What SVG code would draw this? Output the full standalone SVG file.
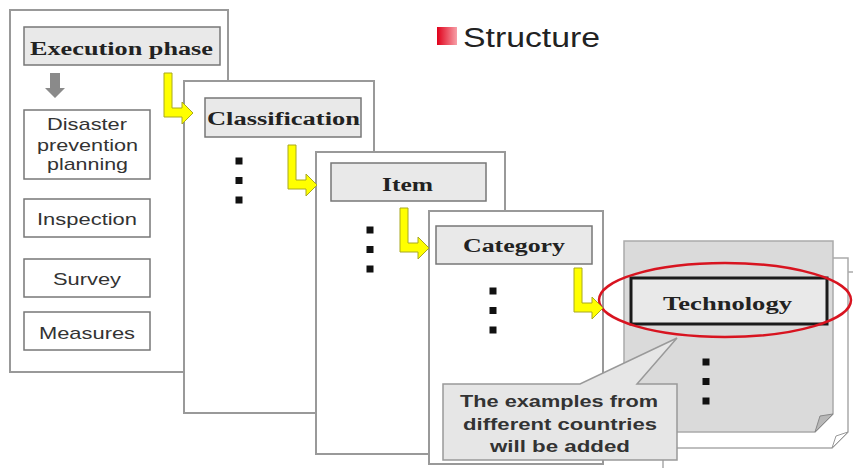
<svg xmlns="http://www.w3.org/2000/svg" width="853" height="468" viewBox="0 0 853 468">
<defs>
<style>
.panel{fill:#fff;stroke:#999;stroke-width:2}
.hdr{fill:#e9e9e9;stroke:#777;stroke-width:1.5}
.sbox{fill:#fff;stroke:#777;stroke-width:1.5}
.serif{font-family:"Liberation Serif","DejaVu Serif",serif;font-weight:bold;fill:#222;font-size:18px}
.sans{font-family:"Liberation Sans",Arial,sans-serif;fill:#333;font-size:17px}
.bsans{font-family:"Liberation Sans",Arial,sans-serif;font-weight:bold;fill:#333;font-size:17px}
.dot{fill:#111}
.yarrow{fill:#ffff00;stroke:#a8a820;stroke-width:1}
</style>
<linearGradient id="rg" x1="0" x2="1" y1="0" y2="0">
<stop offset="0" stop-color="#e0001a"/>
<stop offset="1" stop-color="#f7a0a8"/>
</linearGradient>
<path id="la" d="M0,0 H8 V35 H18 V29 L29,40 L18,51 V44 H0 Z"/>
<g id="dots3">
<rect x="-3.5" y="-3.5" width="7" height="7"/>
<rect x="-3.5" y="16" width="7" height="7"/>
<rect x="-3.5" y="35.5" width="7" height="7"/>
</g>
</defs>
<rect width="853" height="468" fill="#fff"/>

<g id="title">
<rect x="437" y="27" width="20" height="18" fill="url(#rg)"/>
<text x="463" y="47" font-family="'Liberation Sans',Arial,sans-serif" font-size="27" fill="#222" textLength="137" lengthAdjust="spacingAndGlyphs">Structure</text>
</g>

<g id="panel-execution">
<rect class="panel" x="10" y="10" width="218" height="362"/>
<rect class="hdr" x="24" y="27" width="196" height="38"/>
<text class="serif" x="30" y="55" textLength="183" lengthAdjust="spacingAndGlyphs">Execution phase</text>
<path d="M50,73 H60 V88 H65 L55,98 L45,88 H50 Z" fill="#8a8a8a"/>
<rect class="sbox" x="24" y="110" width="126" height="69"/>
<text class="sans" x="47" y="130" textLength="80" lengthAdjust="spacingAndGlyphs">Disaster</text>
<text class="sans" x="37" y="151" textLength="101" lengthAdjust="spacingAndGlyphs">prevention</text>
<text class="sans" x="47" y="170" textLength="81" lengthAdjust="spacingAndGlyphs">planning</text>
<rect class="sbox" x="24" y="199" width="126" height="38"/>
<text class="sans" x="37" y="225" textLength="100" lengthAdjust="spacingAndGlyphs">Inspection</text>
<rect class="sbox" x="24" y="259" width="126" height="38"/>
<text class="sans" x="53" y="285" textLength="68" lengthAdjust="spacingAndGlyphs">Survey</text>
<rect class="sbox" x="24" y="312" width="126" height="38"/>
<text class="sans" x="39" y="339" textLength="96" lengthAdjust="spacingAndGlyphs">Measures</text>
</g>

<g id="panel-classification">
<rect class="panel" x="184" y="81" width="190" height="332"/>
<rect class="hdr" x="205" y="98" width="156" height="39"/>
<text class="serif" x="207" y="125" textLength="153" lengthAdjust="spacingAndGlyphs">Classification</text>
<use href="#dots3" class="dot" x="239" y="161"/>
</g>

<g id="panel-item">
<rect class="panel" x="316" y="152" width="189" height="302"/>
<rect class="hdr" x="331" y="163" width="155" height="38"/>
<text class="serif" x="382" y="191" textLength="51" lengthAdjust="spacingAndGlyphs">Item</text>
<use href="#dots3" class="dot" x="370" y="230"/>
</g>

<g id="panel-category">
<rect class="panel" x="429" y="211" width="174" height="253"/>
<rect class="hdr" x="436" y="226" width="156" height="38"/>
<text class="serif" x="463" y="252" textLength="102" lengthAdjust="spacingAndGlyphs">Category</text>
<use href="#dots3" class="dot" x="493" y="291"/>
</g>

<g id="panel-technology">
<path d="M663,272 H870 V470 H663 Z" fill="#fff" stroke="#aaa" stroke-width="1.5"/>
<path d="M645,258 H848 V432 L832,448 H645 Z" fill="#fff" stroke="#aaa" stroke-width="1.5"/>
<path d="M832,448 L836,436 L848,432 Z" fill="#fff" stroke="#999" stroke-width="1"/>
<path d="M624,241 H833 V414 L815,432 H624 Z" fill="#dadada" stroke="#aaa" stroke-width="1.5"/>
<path d="M815,432 L820,416 L833,414 Z" fill="#b8b8b8" stroke="#888" stroke-width="1"/>
<rect x="631" y="278" width="196" height="46" fill="#e9e9e9" stroke="#1a1a1a" stroke-width="3"/>
<text class="serif" x="663" y="310" textLength="129" lengthAdjust="spacingAndGlyphs">Technology</text>
<use href="#dots3" class="dot" x="706" y="362"/>
</g>

<g id="callout">
<path d="M443,384 H580 L677,338 L637,384 H677 V460 H443 Z" fill="#e6e6e6" stroke="#999" stroke-width="1.5"/>
<text class="bsans" x="460" y="407" textLength="198" lengthAdjust="spacingAndGlyphs">The examples from</text>
<text class="bsans" x="463" y="430" textLength="194" lengthAdjust="spacingAndGlyphs">different countries</text>
<text class="bsans" x="490" y="452" textLength="140" lengthAdjust="spacingAndGlyphs">will be added</text>
</g>

<g id="highlight">
<ellipse cx="725" cy="300" rx="126" ry="37" fill="none" stroke="#d81420" stroke-width="2.5"/>
</g>

<g id="connectors">
<use href="#la" class="yarrow" x="164" y="73"/>
<use href="#la" class="yarrow" x="288" y="145"/>
<use href="#la" class="yarrow" x="400" y="208"/>
<use href="#la" class="yarrow" x="574" y="268"/>
</g>
</svg>
